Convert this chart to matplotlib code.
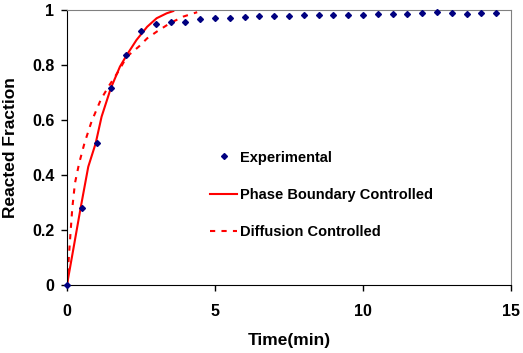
import matplotlib
matplotlib.use("Agg")
import matplotlib.pyplot as plt

plt.rcParams['font.family'] = ['Liberation Sans', 'DejaVu Sans']
plt.rcParams['font.weight'] = 'bold'

# experimental data, every 0.5 min
t_exp = [0.0, 0.5, 1.0, 1.5, 2.0, 2.5, 3.0, 3.5, 4.0, 4.5, 5.0, 5.5, 6.0, 6.5,
         7.0, 7.5, 8.0, 8.5, 9.0, 9.5, 10.0, 10.5, 11.0, 11.5, 12.0, 12.5,
         13.0, 13.5, 14.0, 14.5]
x_exp = [0.0, 0.279, 0.515, 0.715, 0.836, 0.924, 0.949, 0.956, 0.956, 0.967,
         0.970, 0.972, 0.973, 0.977, 0.979, 0.978, 0.982, 0.982, 0.982, 0.982,
         0.982, 0.984, 0.986, 0.986, 0.988, 0.994, 0.990, 0.986, 0.990, 0.988]

# phase boundary controlled model
t_pb = [0.0, 0.21, 0.46, 0.72, 0.97, 1.17, 1.48, 1.79, 2.02, 2.35, 2.71, 3.03,
        3.37, 3.59]
x_pb = [0.0, 0.127, 0.279, 0.43, 0.515, 0.612, 0.715, 0.794, 0.836, 0.891,
        0.939, 0.970, 0.988, 0.996]

# diffusion controlled model
t_dc = [0.0, 0.08, 0.18, 0.27, 0.41, 0.59, 0.83, 1.14, 1.40, 1.77, 2.02, 2.43,
        2.71, 3.03, 3.48, 3.93, 4.40]
x_dc = [0.0, 0.127, 0.279, 0.37, 0.442, 0.515, 0.594, 0.673, 0.721, 0.782,
        0.83, 0.867, 0.897, 0.921, 0.952, 0.976, 0.992]

fig = plt.figure(figsize=(5.23, 3.53), dpi=100)
ax = fig.add_axes([0.128, 0.1926, 0.849, 0.7791])

ax.plot(t_exp, x_exp, linestyle='none', marker='D', markersize=3,
        color='#000080', label='Experimental', clip_on=False, zorder=3)
ax.plot(t_pb, x_pb, color='#ff0000', lw=1.5, label='Phase Boundary Controlled')
ax.plot(t_dc, x_dc, color='#ff0000', lw=1.5, dashes=(2.5, 3),
        label='Diffusion Controlled')

ax.set_xlim(0, 15)
ax.set_ylim(0, 1)
ax.set_xticks([0, 5, 10, 15])
ax.set_yticks([0, 0.2, 0.4, 0.6, 0.8, 1.0])
ax.set_yticklabels(['0', '0.2', '0.4', '0.6', '0.8', '1'])
ax.tick_params(direction='out', length=4, width=1, labelsize=11.5, pad=5)
ax.tick_params(axis='x', pad=10)

for s in ['top', 'right']:
    ax.spines[s].set_color('#808080')
for s in ['left', 'bottom']:
    ax.spines[s].set_color('black')

ax.set_xlabel('Time(min)', fontsize=12.5, fontweight='bold', labelpad=10)
ax.set_ylabel('Reacted Fraction', fontsize=12.5, fontweight='bold', labelpad=10)

leg = ax.legend(loc='upper left', bbox_to_anchor=(0.31, 0.51), frameon=False,
                fontsize=10.5, labelspacing=1.6, handlelength=1.8,
                handletextpad=0.25, borderaxespad=0)

fig.savefig('out.png', dpi=100)
